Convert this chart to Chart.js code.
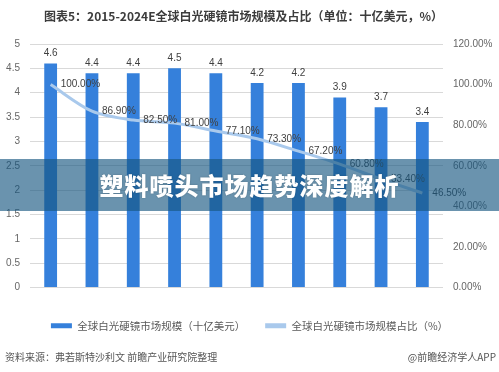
<!DOCTYPE html>
<html>
<head>
<meta charset="utf-8">
<script src="https://cdn.jsdelivr.net/npm/chart.js@4/dist/chart.umd.min.js"></script>
<style>
  body { margin: 0; background: #fff; }
  #wrap { position: relative; width: 499px; height: 372px; overflow: hidden; font-family: "Noto Sans CJK SC", "Liberation Sans", sans-serif; }
  #title { position: absolute; left: 44px; top: 7px; font-size: 12px; font-weight: bold; color: #3c3c3c; white-space: nowrap; }
  #source { position: absolute; left: 5px; top: 349px; font-size: 10px; color: #555; white-space: nowrap; }
  #brand { position: absolute; right: 3px; top: 349px; font-size: 10px; color: #555; white-space: nowrap; }
  #band { position: absolute; left: 0; top: 159px; width: 499px; height: 52px; background: rgba(22, 86, 128, 0.64);
          color: #fff; font-size: 24px; font-weight: 900; text-align: center; line-height: 52px; letter-spacing: 1px;
          text-shadow: 0 0 2px rgba(0,0,0,0.25); }
  canvas { position: absolute; left: 0; top: 0; }
</style>
</head>
<body>
<div id="wrap">
  <canvas id="chart" width="499" height="372"></canvas>
  <div id="title">图表5：2015-2024E全球白光硬镜市场规模及占比（单位：十亿美元，%）</div>
  <div id="band">塑料喷头市场趋势深度解析</div>
  <div id="source">资料来源：弗若斯特沙利文 前瞻产业研究院整理</div>
  <div id="brand">@前瞻经济学人APP</div>
</div>
<script>
const years = ['2015', '2016', '2017', '2018', '2019', '2020E', '2021E', '2022E', '2023E', '2024E'];
const market_size = [4.6, 4.4, 4.4, 4.5, 4.4, 4.2, 4.2, 3.9, 3.7, 3.4];
const market_share = [100.0, 86.9, 82.5, 81.0, 77.1, 73.3, 67.2, 60.8, 53.4, 46.5];
const size_label = '全球白光硬镜市场规模（十亿美元）';
const share_label = '全球白光硬镜市场规模占比（%）';

const labelFont = '10px "Liberation Sans", "Noto Sans CJK SC", sans-serif';

// draws value labels next to the bars and line points
const valueLabels = {
    id: 'valueLabels',
    afterDatasetsDraw(chart) {
        const ctx = chart.ctx;
        ctx.save();
        ctx.font = labelFont;
        ctx.fillStyle = '#404040';
        chart.data.datasets.forEach((ds, i) => {
            const meta = chart.getDatasetMeta(i);
            meta.data.forEach((el, j) => {
                if (ds.type === 'bar') {
                    ctx.textAlign = 'center';
                    ctx.textBaseline = 'middle';
                    ctx.fillText(ds.data[j].toFixed(1), el.x, el.y - 10);
                } else {
                    ctx.textAlign = 'left';
                    ctx.textBaseline = 'middle';
                    ctx.fillText(ds.data[j].toFixed(2) + '%', el.x + 10, el.y);
                }
            });
        });
        ctx.restore();
    }
};

const canvas = document.getElementById('chart').getContext('2d');
const main_chart = new Chart(canvas, {
    data: {
        labels: years,
        datasets: [{
            type: 'bar',
            label: size_label,
            data: market_size,
            backgroundColor: '#3580db',
            barPercentage: 0.62,
            categoryPercentage: 0.5,
            yAxisID: 'y',
            order: 1
        }, {
            type: 'line',
            label: share_label,
            data: market_share,
            borderColor: '#a9c9ec',
            backgroundColor: '#a9c9ec',
            borderWidth: 3,
            pointRadius: 0,
            tension: 0.3,
            fill: false,
            yAxisID: 'y1',
            order: 0
        }]
    },
    options: {
        responsive: false,
        animation: false,
        layout: { padding: { top: 44, left: 0, right: 0, bottom: 31 } },
        plugins: {
            tooltip: { enabled: false },
            legend: {
                position: 'bottom',
                labels: {
                    boxWidth: 21,
                    boxHeight: 5,
                    padding: 20,
                    color: '#595959',
                    font: { size: 10.5, family: '"Noto Sans CJK SC", sans-serif' },
                    sort: (a, b) => a.datasetIndex - b.datasetIndex,
                    generateLabels(chart) {
                        return chart.data.datasets.map((ds, i) => ({
                            text: ds.label,
                            fillStyle: ds.type === 'bar' ? ds.backgroundColor : ds.borderColor,
                            strokeStyle: ds.type === 'bar' ? ds.backgroundColor : ds.borderColor,
                            lineWidth: 0,
                            fontColor: '#595959',
                            datasetIndex: i
                        }));
                    }
                }
            }
        },
        scales: {
            x: {
                grid: { display: false },
                border: { display: false },
                ticks: { color: '#666', font: { size: 10 }, padding: 9, maxRotation: 0 },
                afterFit: (s) => { s.height = 13; }
            },
            y: {
                position: 'left',
                min: 0, max: 5,
                ticks: { stepSize: 0.5, color: '#666', font: { size: 10 }, padding: 10,
                         callback: (v) => String(+v.toFixed(1)) },
                grid: { color: '#d9d9d9', drawTicks: false },
                border: { display: false },
                afterFit: (s) => { s.width = 30; }
            },
            y1: {
                position: 'right',
                min: 0, max: 120,
                ticks: { stepSize: 20, color: '#666', font: { size: 10 }, padding: 10,
                         callback: (v) => v.toFixed(2) + '%' },
                grid: { display: false, drawTicks: false },
                border: { display: false },
                afterFit: (s) => { s.width = 56; }
            }
        }
    },
    plugins: [valueLabels]
});
</script>
</body>
</html>
